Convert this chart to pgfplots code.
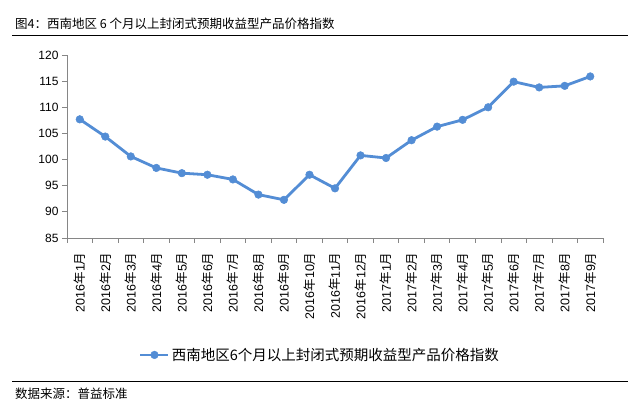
\documentclass[border=0pt]{standalone}
\usepackage{fontspec}
\setmainfont{Noto Sans CJK SC}
\newfontfamily\arial{Liberation Sans}
\usepackage{pgfplots}
\pgfplotsset{compat=1.18}
\definecolor{serblue}{RGB}{83,141,213}
\definecolor{axgray}{RGB}{134,134,134}
\newcommand\lab[2]{{\arial #1}年{\arial #2}月}
\begin{document}
\begin{tikzpicture}[x=1pt,y=1pt]
\fill[white] (0,0) rectangle (633,403);
\node[anchor=west,inner sep=0pt,font=\fontsize{12.5}{14}\selectfont] at (15,379.5) {图4：西南地区 6 个月以上封闭式预期收益型产品价格指数};
\draw[line width=0.9pt] (12,368) -- (628,368);
\draw[line width=0.9pt] (12,22) -- (628,22);
\node[anchor=west,inner sep=0pt,font=\fontsize{12.5}{14}\selectfont] at (15,9) {数据来源：普益标准};
\begin{axis}[
  at={(67pt,165pt)}, anchor=south west,
  scale only axis, width=536pt, height=183pt,
  xmin=0.5, xmax=21.5, ymin=85, ymax=120,
  ytick={85,90,...,120},
  xtick={0.5,1.5,...,21.5},
  x tick label as interval,
  xticklabels={\lab{2016}{1},\lab{2016}{2},\lab{2016}{3},\lab{2016}{4},\lab{2016}{5},\lab{2016}{6},\lab{2016}{7},\lab{2016}{8},\lab{2016}{9},\lab{2016}{10},\lab{2016}{11},\lab{2016}{12},\lab{2017}{1},\lab{2017}{2},\lab{2017}{3},\lab{2017}{4},\lab{2017}{5},\lab{2017}{6},\lab{2017}{7},\lab{2017}{8},\lab{2017}{9}},
  xticklabel style={rotate=90, anchor=east, font=\fontsize{12.5}{14}\selectfont},
  xticklabel shift=6pt,
  yticklabel style={font=\arial\fontsize{12}{14}\selectfont},
  /pgf/number format/assume math mode=true,
  axis x line*=bottom, axis y line*=left,
  axis line style={draw=axgray, line width=0.8pt},
  tick style={draw=axgray, line width=0.8pt},
  tick align=outside, major tick length=5pt,
  clip=false,
  legend style={at={(0.472,-0.639)}, anchor=center, draw=none, fill=none,
    font=\fontsize{14.5}{16}\selectfont, inner sep=1pt},
  legend cell align=left,
  legend image code/.code={\draw[#1, mark repeat=2, mark phase=2] plot coordinates {(0pt,0pt) (14pt,0pt) (28pt,0pt)};},
]
\addplot[color=serblue, line width=2.8pt, mark=*, mark size=3.8pt, mark options={fill=serblue, draw=serblue, line width=0.5pt}]
 coordinates {(1,107.7) (2,104.4) (3,100.6) (4,98.4) (5,97.4) (6,97.1) (7,96.2) (8,93.3) (9,92.3) (10,97.1) (11,94.5) (12,100.8) (13,100.3) (14,103.7) (15,106.3) (16,107.6) (17,110.0) (18,114.9) (19,113.8) (20,114.1) (21,115.9)};
\addlegendentry{西南地区6个月以上封闭式预期收益型产品价格指数}
\end{axis}
\end{tikzpicture}
\end{document}
